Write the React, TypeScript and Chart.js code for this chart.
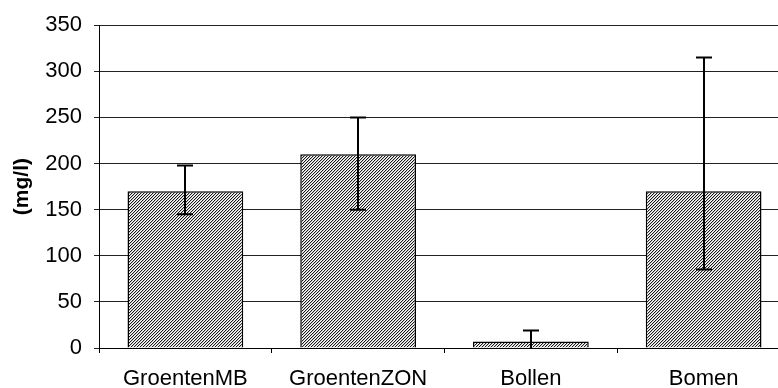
import React, { useEffect, useRef } from "react";
import { Chart, registerables } from "chart.js";

Chart.register(...registerables);

const categories = ["GroentenMB", "GroentenZON", "Bollen", "Bomen"];
const values = [170, 210, 7, 170];
const errLow = [145, 150, -5, 85];
const errHigh = [198, 250, 19, 315];
const yTicks = [0, 50, 100, 150, 200, 250, 300, 350];
const yTitle = "(mg/l)";

const FONT = "Arial, 'Liberation Sans', sans-serif";

function makePattern(): CanvasPattern | string {
  const tile = document.createElement("canvas");
  tile.width = 3;
  tile.height = 3;
  const c = tile.getContext("2d");
  if (!c) return "#888";
  c.fillStyle = "#ffffff";
  c.fillRect(0, 0, 3, 3);
  for (let x = 0; x < 3; x++) {
    for (let y = 0; y < 3; y++) {
      const k = (x + y) % 3;
      if (k === 0) {
        c.fillStyle = "#1a1a1a";
        c.fillRect(x, y, 1, 1);
      } else if (k === 1) {
        c.fillStyle = "#c4c4c4";
        c.fillRect(x, y, 1, 1);
      }
    }
  }
  const p = c.createPattern(tile, "repeat");
  return p || "#888";
}

const errorBarPlugin = {
  id: "errorBars",
  afterDatasetsDraw(chart: any) {
    const { ctx, chartArea } = chart;
    const meta = chart.getDatasetMeta(0);
    const yScale = chart.scales.y;
    ctx.save();
    ctx.beginPath();
    ctx.rect(chartArea.left, chartArea.top - 2, chartArea.right - chartArea.left, chartArea.bottom - chartArea.top + 2);
    ctx.clip();
    ctx.strokeStyle = "#000";
    ctx.lineWidth = 2;
    meta.data.forEach((bar: any, i: number) => {
      const x = Math.round(bar.x);
      const yLo = yScale.getPixelForValue(errLow[i]);
      const yHi = yScale.getPixelForValue(errHigh[i]);
      const cap = 8;
      ctx.beginPath();
      ctx.moveTo(x, yLo);
      ctx.lineTo(x, yHi);
      ctx.moveTo(x - cap, yHi);
      ctx.lineTo(x + cap, yHi);
      ctx.moveTo(x - cap, yLo);
      ctx.lineTo(x + cap, yLo);
      ctx.stroke();
    });
    ctx.restore();
  },
};

export default function App() {
  const ref = useRef<HTMLCanvasElement>(null);

  useEffect(() => {
    if (!ref.current) return;
    const pattern = makePattern();
    const chart = new Chart(ref.current, {
      type: "bar",
      data: {
        labels: categories,
        datasets: [
          {
            data: values,
            backgroundColor: pattern as any,
            borderColor: "#000",
            borderWidth: 1.5,
            categoryPercentage: 1,
            barPercentage: 0.67,
          },
        ],
      },
      options: {
        animation: false,
        responsive: false,
        maintainAspectRatio: false,
        layout: { padding: { top: 24, right: 10, left: 0, bottom: 0 } },
        plugins: {
          legend: { display: false },
          tooltip: { enabled: false },
        },
        scales: {
          x: {
            offset: true,
            grid: {
              offset: true,
              drawOnChartArea: false,
              drawTicks: true,
              tickLength: 5,
              color: "#000",
            },
            border: { color: "#000", width: 1 },
            ticks: {
              color: "#000",
              padding: 13,
              maxRotation: 0,
              autoSkip: false,
              font: { family: FONT, size: 22 },
            },
            afterFit: (scale: any) => {
              scale.height = 40;
            },
          },
          y: {
            min: 0,
            max: 350,
            afterBuildTicks: (scale: any) => {
              scale.ticks = yTicks.map((v) => ({ value: v }));
            },
            grid: {
              color: "#222",
              lineWidth: 1,
              drawTicks: true,
              tickLength: 5,
            },
            border: { color: "#000", width: 1 },
            ticks: {
              color: "#000",
              padding: 12,
              font: { family: FONT, size: 22 },
            },
            title: {
              display: true,
              text: yTitle,
              color: "#000",
              padding: { top: 10, bottom: 0 },
              font: { family: FONT, size: 21, weight: "bold" },
            },
            afterFit: (scale: any) => {
              scale.width = 99;
            },
          },
        },
      },
      plugins: [errorBarPlugin],
    });
    return () => chart.destroy();
  }, []);

  return (
    <div
      style={{
        position: "absolute",
        left: 0,
        top: 0,
        width: 778,
        height: 388,
        overflow: "hidden",
        background: "#fff",
      }}
    >
      <canvas ref={ref} width={800} height={388} style={{ display: "block" }} />
    </div>
  );
}
